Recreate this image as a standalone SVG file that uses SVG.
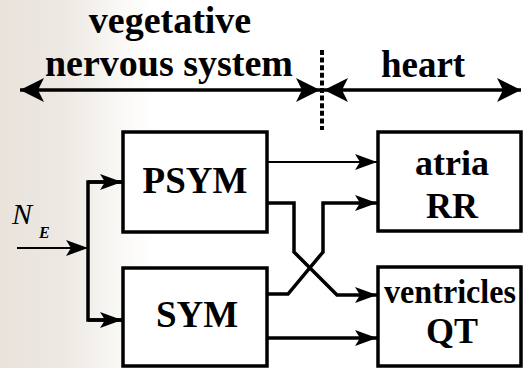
<svg xmlns="http://www.w3.org/2000/svg" width="523" height="368" viewBox="0 0 523 368">
<defs>
<linearGradient id="bg" x1="0" y1="0" x2="1" y2="0">
<stop offset="0" stop-color="#e9e3dc"/>
<stop offset="0.12" stop-color="#ede8e2"/>
<stop offset="0.24" stop-color="#fbfaf8"/>
<stop offset="0.3" stop-color="#ffffff"/>
</linearGradient>
<marker id="ah" viewBox="0 0 22 16" refX="22" refY="8" markerWidth="22" markerHeight="16" markerUnits="userSpaceOnUse" orient="auto">
<path d="M0,0 L22,8 L0,16 L5,8 Z" fill="#000"/>
</marker>
<marker id="big" viewBox="0 0 24 24" refX="24" refY="12" markerWidth="24" markerHeight="24" markerUnits="userSpaceOnUse" orient="auto-start-reverse">
<path d="M0,0 L24,12 L0,24 L6,12 Z" fill="#000"/>
</marker>
</defs>
<style>
.box{fill:#fff;stroke:#000;stroke-width:3.5}
.t{font-family:"Liberation Serif","Times New Roman",Times,"Noto Serif","DejaVu Serif",serif;font-weight:bold;fill:#000;text-anchor:middle}
.ne{font-family:"Liberation Serif","Times New Roman",Times,"Noto Serif","DejaVu Serif",serif;font-style:italic;fill:#000}
.thick{fill:none;stroke:#000;stroke-width:3.5}
.thin{fill:none;stroke:#000;stroke-width:2}
</style>
<rect x="0" y="0" width="523" height="368" fill="url(#bg)"/>

<g id="labels">
<text class="t" x="170" y="33" font-size="38">vegetative</text>
<text class="t" x="169" y="76" font-size="38">nervous system</text>
<text class="t" x="423" y="77" font-size="37">heart</text>
</g>

<g id="PSYM">
<rect class="box" x="123" y="132" width="144" height="100"/>
<text class="t" x="195" y="193" font-size="37">PSYM</text>
</g>
<g id="SYM">
<rect class="box" x="123" y="268" width="144" height="98"/>
<text class="t" x="197" y="327" font-size="37">SYM</text>
</g>
<g id="atria">
<rect class="box" x="378" y="132" width="143" height="99"/>
<text class="t" x="452" y="175" font-size="36">atria</text>
<text class="t" x="452" y="218" font-size="36">RR</text>
</g>
<g id="ventricles">
<rect class="box" x="378" y="267" width="143" height="99"/>
<text class="t" x="450" y="303" font-size="33" textLength="132" lengthAdjust="spacingAndGlyphs">ventricles</text>
<text class="t" x="452" y="343" font-size="36">QT</text>
</g>
<g id="NE">
<text class="ne" x="12" y="224" font-size="30">N</text>
<text class="ne" x="39" y="238" font-size="16" font-weight="bold">E</text>
</g>

<g id="connectors">
<line class="thick" x1="20" y1="90" x2="320" y2="90" marker-start="url(#big)" marker-end="url(#big)"/>
<line class="thick" x1="324" y1="90" x2="521" y2="90" marker-start="url(#big)" marker-end="url(#big)"/>
<line x1="322" y1="50" x2="322" y2="130" stroke="#000" stroke-width="4" stroke-dasharray="5,2.6"/>

<line class="thin" x1="17" y1="248" x2="88" y2="248" marker-end="url(#ah)"/>
<polyline class="thick" points="123,182 88,182 88,320 123,320"/>
<line class="thick" x1="88" y1="182" x2="122" y2="182" marker-end="url(#ah)"/>
<line class="thick" x1="88" y1="320" x2="122" y2="320" marker-end="url(#ah)"/>

<line class="thin" x1="267" y1="162" x2="377" y2="162" marker-end="url(#ah)"/>
<polyline class="thick" points="267,203 294,203 294,252 337,295 377,295" marker-end="url(#ah)"/>
<polyline class="thick" points="267,294 288,294 323,252 323,203 377,203" marker-end="url(#ah)"/>
<line class="thick" x1="267" y1="338" x2="377" y2="338" marker-end="url(#ah)"/>
</g>
</svg>
